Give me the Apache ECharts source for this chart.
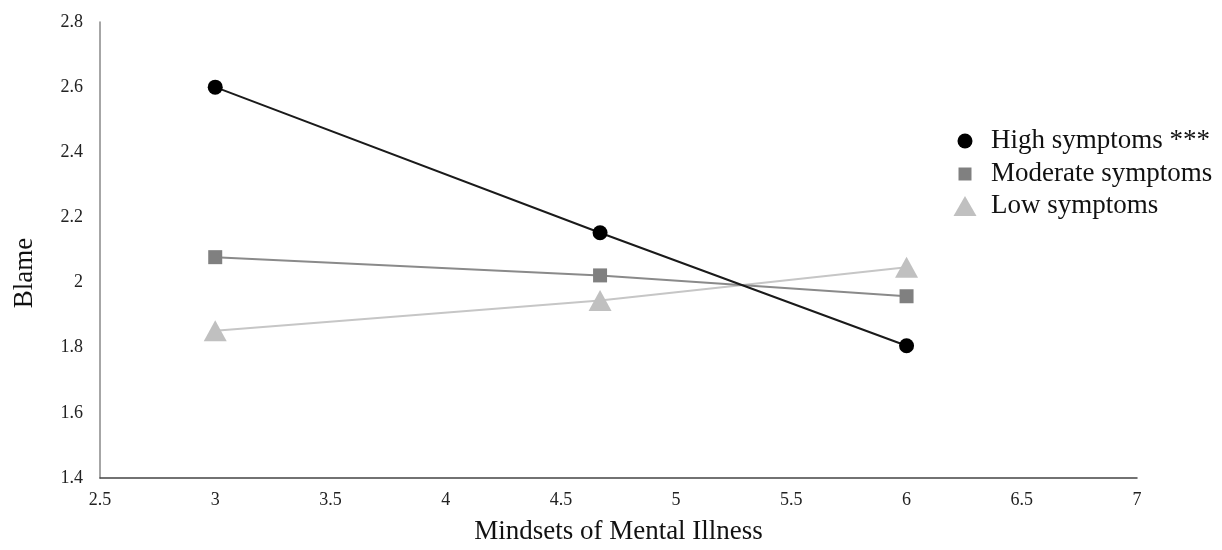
<!DOCTYPE html>
<html><head><meta charset="utf-8">
<script src="https://cdn.jsdelivr.net/npm/echarts@6/dist/echarts.min.js"></script>
<style>html,body{margin:0;padding:0;background:#fff}#c{width:1222px;height:550px}</style>
</head><body><div id="c"></div>
<script>
const xValues = [3, 4.67, 6];
const highSymptoms = [2.6, 2.153, 1.806];
const moderateSymptoms = [2.078, 2.022, 1.958];
const lowSymptoms = [1.852, 1.945, 2.047];
const seriesNames = ['High symptoms ***', 'Moderate symptoms', 'Low symptoms'];
const xTicks = {min: 2.5, max: 7, interval: 0.5};
const yTicks = {min: 1.4, max: 2.8, interval: 0.2};

const font = '"Liberation Serif", "Times New Roman", serif';
const pairs = arr => xValues.map((x, i) => [x, arr[i]]);
function legendItem(name, icon, w, h, left, pad, top) {
  return {
    orient: 'vertical', left: left, top: top, padding: 0,
    itemWidth: w, itemHeight: h, itemGap: 0,
    textStyle: {fontFamily: font, fontSize: 27, color: '#111', lineHeight: 30, padding: [2, 0, 0, pad]},
    data: [{name: name, icon: icon}]
  };
}
const chart = echarts.init(document.getElementById('c'));
chart.setOption({
  animation: false,
  textStyle: {fontFamily: font},
  grid: {left: 100, right: 85, top: 22, bottom: 69.5, containLabel: false},
  legend: [
    legendItem(seriesNames[0], 'circle', 15, 15, 957.5, 13.5, 125),
    legendItem(seriesNames[1], 'rect', 13, 13, 958.5, 14.5, 158),
    legendItem(seriesNames[2], 'triangle', 23, 20, 953.5, 9.5, 190)
  ],
  xAxis: {
    type: 'value', min: xTicks.min, max: xTicks.max, interval: xTicks.interval,
    name: 'Mindsets of Mental Illness', nameLocation: 'middle', nameGap: 40,
    nameTextStyle: {fontFamily: font, fontSize: 27, color: '#111'},
    axisLine: {show: true, lineStyle: {color: '#444', width: 1.5}},
    axisTick: {show: false}, splitLine: {show: false},
    axisLabel: {fontFamily: font, fontSize: 18, color: '#222', margin: 13}
  },
  yAxis: {
    type: 'value', min: yTicks.min, max: yTicks.max, interval: yTicks.interval,
    name: 'Blame', nameLocation: 'middle', nameGap: 62, nameRotate: 90,
    nameTextStyle: {fontFamily: font, fontSize: 27, color: '#111', padding: [0, 46, 0, 0]},
    axisLine: {show: true, lineStyle: {color: '#888', width: 1.5}},
    axisTick: {show: false}, splitLine: {show: false},
    axisLabel: {fontFamily: font, fontSize: 18, color: '#222', margin: 17,
      formatter: v => String(Math.round(v * 10) / 10)}
  },
  series: [
    {name: seriesNames[0], type: 'line', data: pairs(highSymptoms), symbol: 'circle', symbolSize: 15,
     itemStyle: {color: '#000'}, lineStyle: {color: '#1a1a1a', width: 2}, z: 3},
    {name: seriesNames[1], type: 'line', data: pairs(moderateSymptoms), symbol: 'rect', symbolSize: 14,
     itemStyle: {color: '#808080'}, lineStyle: {color: '#8a8a8a', width: 2}, z: 2},
    {name: seriesNames[2], type: 'line', data: pairs(lowSymptoms), symbol: 'triangle', symbolSize: [23, 21],
     itemStyle: {color: '#c0c0c0'}, lineStyle: {color: '#c6c6c6', width: 2}, z: 1}
  ]
});
</script></body></html>
